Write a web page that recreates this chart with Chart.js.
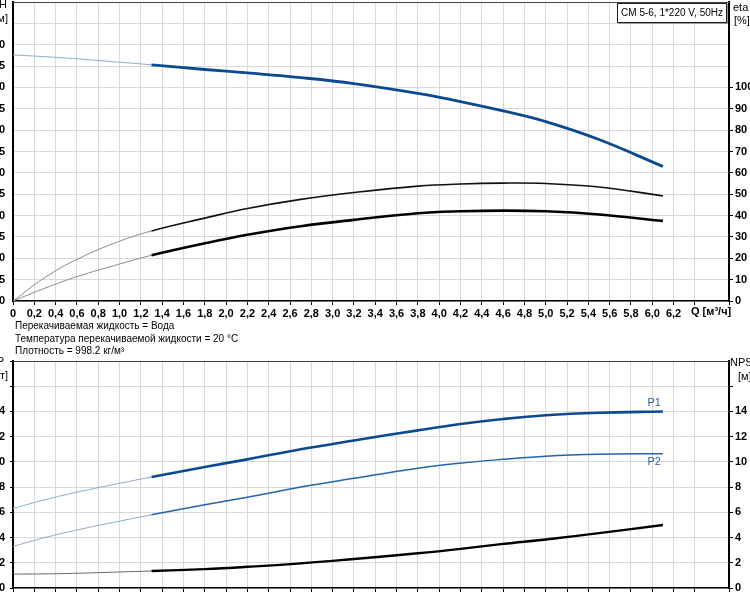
<!DOCTYPE html>
<html>
<head>
<meta charset="utf-8">
<script src="https://cdn.jsdelivr.net/npm/chart.js@4.4.0/dist/chart.umd.min.js"></script>
<style>
  html, body { margin: 0; padding: 0; background: #fff; overflow: hidden; }
  #page { position: relative; width: 750px; height: 600px; overflow: hidden; font-family: Arial, "Liberation Sans", sans-serif; font-size: 11px; color: #000; }
  canvas { position: absolute; }
  .txt { position: absolute; white-space: nowrap; line-height: 13px; }
  .note { font-size: 10px; }
  .r { text-align: right; }
  #model { position: absolute; right: 23px; top: 3px; height: 18px; padding: 0 3px; border: 1px solid #222; background: #fff; box-shadow: 1px 1px 0 #999; line-height: 18px; white-space: nowrap; font-size: 10px; }
</style>
</head>
<body>
<div id="page">
  <canvas id="top-chart" width="806" height="323" style="left:-37px; top:0px;"></canvas>
  <canvas id="bottom-chart" width="806" height="251" style="left:-37px; top:359px;"></canvas>

  <div class="txt r" style="right:743px; top:-2px;">H</div>
  <div class="txt r" style="right:742px; top:12px;">[м]</div>
  <div class="txt" style="left:733px; top:1px;">eta</div>
  <div class="txt" style="left:734px; top:14px;">[%]</div>
  <div id="model">CM 5-6, 1*220 V, 50Hz</div>
  <div class="txt" style="left:691px; top:305px; font-weight:bold;">Q [м³/ч]</div>

  <div class="txt note" style="left:15px; top:319px;">Перекачиваемая жидкость = Вода</div>
  <div class="txt note" style="left:15px; top:332px;">Температура перекачиваемой жидкости = 20 °C</div>
  <div class="txt note" style="left:15px; top:344px;">Плотность = 998.2 кг/м³</div>

  <div class="txt r" style="right:746px; top:355px;">P</div>
  <div class="txt r" style="right:742px; top:369px;">[кВт]</div>
  <div class="txt" style="left:730px; top:356px;">NPSH</div>
  <div class="txt" style="left:738px; top:370px;">[м]</div>
</div>

<script>
// Flow points (m³/h)
const flowQ = [0, 0.3, 0.6, 1.0, 1.3, 1.8, 2.2, 2.7, 3.2, 3.8, 4.2, 4.6, 5.0, 5.5, 6.1];

// Top chart: head [m] and efficiencies [%]
const headH = [57.6, 57.2, 56.7, 55.9, 55.3, 54.2, 53.4, 52.3, 50.9, 48.6, 46.7, 44.5, 42.0, 37.8, 31.5];
const etaPump = [0, 11, 19.5, 28, 32.8, 38.8, 43.3, 47.6, 50.8, 53.8, 54.8, 55.2, 55.0, 53.4, 49.2];
const etaTotal = [0, 6, 11.4, 17.3, 21.4, 27, 31, 35, 38, 41.1, 42, 42.3, 42, 40.5, 37.5];

// Bottom chart: power [kW] and NPSH [m]
const powerP1 = [0.63, 0.70, 0.76, 0.83, 0.88, 0.96, 1.02, 1.10, 1.17, 1.25, 1.30, 1.34, 1.37, 1.39, 1.40];
const powerP2 = [0.33, 0.40, 0.46, 0.53, 0.58, 0.66, 0.72, 0.80, 0.87, 0.95, 0.99, 1.02, 1.045, 1.06, 1.065];
const npshR = [1.1, 1.12, 1.17, 1.27, 1.35, 1.5, 1.68, 1.95, 2.3, 2.75, 3.1, 3.5, 3.85, 4.35, 5.0];

// the curves are drawn thin up to this point, thick after it
const splitIdx = 4;

const tickFont = { family: "Arial, 'Liberation Sans', sans-serif", size: 11, weight: "bold" };
const gridColor = "#d9d9d9";

const curve = (values, axis, thinColor, thickColor, thickWidth, endLabel) => ({
  data: flowQ.map((q, i) => ({ x: q, y: values[i] })),
  yAxisID: axis,
  borderColor: thickColor,
  borderWidth: thickWidth,
  endLabel: endLabel,
  segment: {
    borderColor: (c) => (c.p0DataIndex < splitIdx ? thinColor : thickColor),
    borderWidth: (c) => (c.p0DataIndex < splitIdx ? 1 : thickWidth),
  },
});

// fixed axis sizes, no extra label padding, so the plot area lands where the reference has it
const fixWidth = (w) => (scale) => {
  scale.width = w;
  scale.paddingTop = 0;
  scale.paddingBottom = 0;
};
const fixHeight = (h) => (scale) => {
  scale.height = h;
  scale.paddingLeft = 0;
  scale.paddingRight = 0;
};

// frame on top of the plot area + end labels (P1 / P2)
const framePlugin = {
  id: "frame",
  afterDatasetsDraw(chart) {
    const { ctx, chartArea } = chart;
    ctx.save();
    ctx.strokeStyle = "#444";
    ctx.lineWidth = 1;
    ctx.beginPath();
    ctx.moveTo(chartArea.left, chartArea.top + 0.5);
    ctx.lineTo(chartArea.right, chartArea.top + 0.5);
    ctx.stroke();
    chart.data.datasets.forEach((ds, i) => {
      if (!ds.endLabel) return;
      const pts = chart.getDatasetMeta(i).data;
      const last = pts[pts.length - 1];
      ctx.font = "11px Arial, 'Liberation Sans', sans-serif";
      ctx.fillStyle = ds.endLabel.color;
      ctx.textAlign = "right";
      ctx.textBaseline = "middle";
      ctx.fillText(ds.endLabel.text, last.x - 2, last.y + ds.endLabel.dy);
    });
    ctx.restore();
  },
};

const xScale = (showLabels) => ({
  type: "linear",
  min: 0,
  max: 6.72,
  ticks: {
    stepSize: 0.2,
    autoSkip: false,
    maxRotation: 0,
    display: showLabels,
    padding: 2,
    color: "#000",
    font: tickFont,
    callback: (v) => (v > 6.3 ? "" : v === 0 ? "0" : v.toFixed(1).replace(".", ",")),
  },
  grid: { color: gridColor, tickLength: 4, tickColor: "#000" },
  border: { color: "#000", width: 1.5 },
  afterFit: fixHeight(22),
});

const baseOptions = {
  responsive: false,
  animation: false,
  layout: { padding: { top: 2, left: 0, right: 0, bottom: 0 } },
  plugins: { legend: { display: false }, tooltip: { enabled: false } },
  elements: {
    point: { radius: 0 },
    line: { tension: 0.4, fill: false, capBezierPoints: true },
  },
};

// Top chart: H and eta
new Chart(document.getElementById("top-chart").getContext("2d"), {
  type: "line",
  data: {
    datasets: [
      curve(headH, "yH", "#8fa9cb", "#0b4a90", 2.8),
      curve(etaPump, "yEta", "#8a8a8a", "#111111", 1.6),
      curve(etaTotal, "yEta", "#8a8a8a", "#000000", 2.6),
    ],
  },
  options: {
    ...baseOptions,
    scales: {
      x: xScale(true),
      yH: {
        position: "left",
        min: 0,
        max: 70,
        ticks: {
          stepSize: 5, autoSkip: false, padding: 8, color: "#000", font: tickFont,
          callback: (v) => (v <= 60 ? String(v) : ""),
        },
        grid: { color: gridColor, drawTicks: false },
        border: { color: "#000", width: 2 },
        afterFit: fixWidth(50),
      },
      yEta: {
        position: "right",
        min: 0,
        max: 140,
        ticks: {
          stepSize: 10, autoSkip: false, padding: 2, color: "#000", font: tickFont,
          callback: (v) => (v <= 100 ? String(v) : ""),
        },
        grid: {
          drawOnChartArea: false, tickLength: 4,
          tickColor: (c) => (c.tick && c.tick.value <= 100 ? "#000" : "rgba(0,0,0,0)"),
        },
        border: { color: "#000", width: 2 },
        afterFit: fixWidth(40),
      },
    },
  },
  plugins: [framePlugin],
});

// Bottom chart: P1, P2 and NPSH
new Chart(document.getElementById("bottom-chart").getContext("2d"), {
  type: "line",
  data: {
    datasets: [
      curve(powerP1, "yP", "#8fa9cb", "#0b4a90", 2.6, { text: "P1", color: "#2a5f9e", dy: -8 }),
      curve(powerP2, "yP", "#8fa9cb", "#2464a8", 1.5, { text: "P2", color: "#2a5f9e", dy: 8 }),
      curve(npshR, "yN", "#666666", "#000000", 2.4),
    ],
  },
  options: {
    ...baseOptions,
    scales: {
      x: xScale(false),
      yP: {
        position: "left",
        min: 0,
        max: 1.8,
        ticks: {
          stepSize: 0.2, autoSkip: false, padding: 5, color: "#000", font: tickFont,
          callback: (v) => (v <= 1.41 ? (v === 0 ? "0" : v.toFixed(1).replace(".", ",")) : ""),
        },
        grid: { color: gridColor, tickLength: 3, tickColor: "#000" },
        border: { color: "#000", width: 2 },
        afterFit: fixWidth(50),
      },
      yN: {
        position: "right",
        min: 0,
        max: 18,
        ticks: {
          stepSize: 2, autoSkip: false, padding: 2, color: "#000", font: tickFont,
          callback: (v) => (v <= 14 ? String(v) : ""),
        },
        grid: {
          drawOnChartArea: false, tickLength: 4,
          tickColor: (c) => (c.tick && c.tick.value <= 16 ? "#000" : "rgba(0,0,0,0)"),
        },
        border: { color: "#000", width: 2 },
        afterFit: fixWidth(40),
      },
    },
  },
  plugins: [framePlugin],
});
</script>
</body>
</html>
